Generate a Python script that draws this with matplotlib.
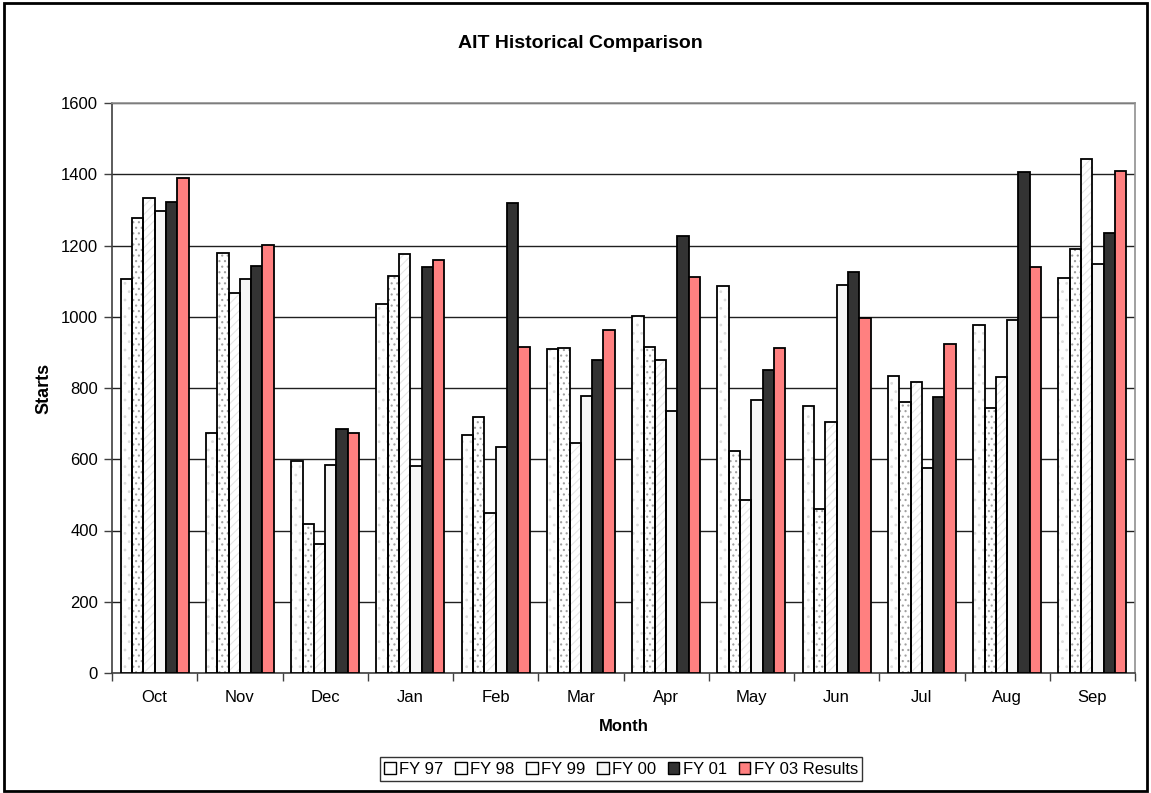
import matplotlib
matplotlib.use("Agg")
import matplotlib.pyplot as plt
import numpy as np
from matplotlib.patches import Rectangle, Patch

plt.rcParams['font.family'] = ['Liberation Sans', 'DejaVu Sans']

months = ["Oct", "Nov", "Dec", "Jan", "Feb", "Mar", "Apr", "May", "Jun", "Jul", "Aug", "Sep"]
series_names = ["FY 97", "FY 98", "FY 99", "FY 00", "FY 01", "FY 03 Results"]
fy97 = [1107, 674, 594, 1037, 668, 909, 1003, 1086, 750, 835, 978, 1110]
fy98 = [1278, 1180, 417, 1114, 719, 913, 916, 624, 461, 761, 744, 1189]
fy99 = [1334, 1067, 361, 1176, 449, 646, 880, 486, 705, 818, 832, 1443]
fy00 = [1298, 1107, 583, 581, 634, 778, 735, 766, 1090, 575, 992, 1149]
fy01 = [1322, 1142, 685, 1140, 1319, 879, 1228, 850, 1126, 775, 1406, 1236]
fy03 = [1390, 1201, 675, 1160, 915, 962, 1112, 913, 996, 924, 1139, 1410]
yticks = [0, 200, 400, 600, 800, 1000, 1200, 1400, 1600]

data = [fy97, fy98, fy99, fy00, fy01, fy03]
styles = [
    dict(fc="white", hatch="..", hc="#dcdcdc"),
    dict(fc="white", hatch="...", hc="#a0a0a0"),
    dict(fc="white", hatch="////", hc="#e6e6e6"),
    dict(fc="#f6f6f6", hatch=None, hc=None),
    dict(fc="#333333", hatch=None, hc=None),
    dict(fc="#FF8080", hatch=None, hc=None),
]

fig = plt.figure(figsize=(11.51, 7.93), dpi=100)
ax = fig.add_axes([112/1151, 1-673/793, (1135-112)/1151, (673-103)/793])

x = np.arange(len(months))
w = 0.1325
plt.rcParams['hatch.linewidth'] = 0.8
for i, (vals, st) in enumerate(zip(data, styles)):
    pos = x + (i - 2.5) * w
    if st["hatch"]:
        ax.bar(pos, vals, w, color=st["fc"], edgecolor=st["hc"], hatch=st["hatch"],
               linewidth=0, zorder=3)
        ax.bar(pos, vals, w, fill=False, edgecolor="black", linewidth=1.3, zorder=4)
    else:
        ax.bar(pos, vals, w, color=st["fc"], edgecolor="black", linewidth=1.3, zorder=3)

ax.set_xlim(-0.5, 11.5)
ax.set_ylim(0, 1600)
ax.set_yticks(yticks)
ax.set_yticklabels([str(v) for v in yticks], fontsize=12)
ax.yaxis.grid(True, color="#202020", linewidth=1.0, zorder=0)
ax.set_axisbelow(True)

ax.set_xticks(x)
ax.set_xticklabels(months, fontsize=12)
ax.set_xticks(np.arange(-0.5, 12, 1), minor=True)
ax.tick_params(axis='x', which='major', length=0, pad=12)
ax.tick_params(axis='x', which='minor', length=6, width=1, color="#404040", direction='out')
ax.tick_params(axis='y', length=6, width=1, color="#404040", direction='out', pad=4)

for s in ["left", "bottom"]:
    ax.spines[s].set_color("#404040")
    ax.spines[s].set_linewidth(1.2)
for s in ["top", "right"]:
    ax.spines[s].set_color("#909090")
    ax.spines[s].set_linewidth(1.2)

ax.set_ylabel("Starts", fontsize=13, fontweight="bold", labelpad=6)
ax.set_xlabel("Month", fontsize=12, fontweight="bold", labelpad=10)
fig.text(580/1151, 1-44/793, "AIT Historical Comparison", fontsize=14, fontweight="bold",
         ha="center", va="center")

handles = []
for st in styles:
    handles.append(Patch(facecolor=st["fc"], edgecolor="black", linewidth=1.0))
leg = fig.legend(handles, series_names, loc="center", bbox_to_anchor=(621/1151, 1-769/793),
                 ncol=6, fontsize=12, frameon=True, fancybox=False, edgecolor="black",
                 handlelength=0.7, handleheight=0.7, handletextpad=0.2, columnspacing=0.7,
                 borderpad=0.25, borderaxespad=0)
leg.get_frame().set_linewidth(1.0)

fig.patches.append(Rectangle((4/1151, 1-791/793), (1147-4)/1151, (791-3)/793,
                             transform=fig.transFigure, fill=False, edgecolor="black",
                             linewidth=2))

fig.savefig("out.png", dpi=100)
